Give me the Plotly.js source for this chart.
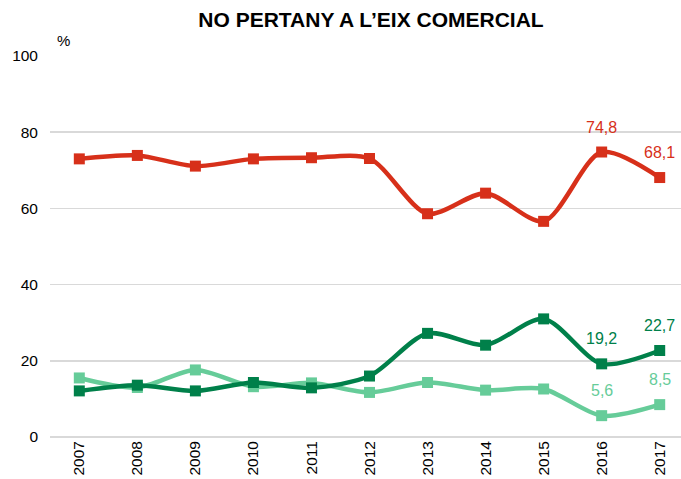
<!DOCTYPE html>
<html><head><meta charset="utf-8">
<script src="https://cdn.plot.ly/plotly-3.0.1.min.js"></script>
<style>html,body{margin:0;padding:0;background:#fff}#c{width:681px;height:479px}</style>
</head><body><div id="c"></div>
<script>
const years = ['2007','2008','2009','2010','2011','2012','2013','2014','2015','2016','2017'];
const redVals = [73.0, 73.9, 71.1, 73.0, 73.3, 73.1, 58.6, 64.0, 56.6, 74.8, 68.1];
const darkGreenVals = [12.1, 13.6, 12.1, 14.3, 12.9, 16.0, 27.2, 24.1, 31.0, 19.2, 22.7];
const lightGreenVals = [15.5, 13.0, 17.6, 13.2, 14.2, 11.7, 14.3, 12.3, 12.6, 5.6, 8.5];
const labelYears = ['2016','2017'];

const FONT = 'Liberation Sans, Arial, sans-serif';
const RED = '#D7301A', DARK = '#00804A', LIGHT = '#66CC99';
function tr(y, c){
  return {x: years, y: y, type:'scatter', mode:'lines+markers',
    line:{color:c, width:4.5, shape:'spline', smoothing:0.8},
    marker:{symbol:'square', size:11, color:c}, hoverinfo:'skip', showlegend:false, cliponaxis:false};
}
const fmt = v => v.toFixed(1).replace('.', ',');
const ann = [];
[[redVals,RED],[darkGreenVals,DARK],[lightGreenVals,LIGHT]].forEach(([vals,c])=>{
  labelYears.forEach(yr=>{
    const i = years.indexOf(yr);
    ann.push({x: i, y: vals[i], xref:'x', yref:'y', text: fmt(vals[i]), showarrow:false,
      yshift: 25, font:{family:FONT, size:16, color:c}});
  });
});
ann.push({xref:'paper', yref:'paper', x:(63.5-50)/631, y:1.0, yshift:16, xanchor:'center', yanchor:'middle',
  text:'%', showarrow:false, font:{family:FONT, size:15, color:'#000'}});

const layout = {
  width:681, height:479,
  margin:{l:50, r:0, t:56, b:42, autoexpand:false},
  paper_bgcolor:'#fff', plot_bgcolor:'#fff',
  title:{text:'<b>NO PERTANY A L’EIX COMERCIAL</b>', xref:'container', yref:'container',
    x:371/681, y:1-19.5/479, xanchor:'center', yanchor:'middle',
    font:{family:FONT, size:21, color:'#000'}},
  xaxis:{type:'category', range:[-0.505, 10.367], showgrid:false, zeroline:false, showline:false,
    ticks:'', tickangle:-90, tickfont:{family:FONT, size:15.5, color:'#000'},
    automargin:false, fixedrange:true},
  yaxis:{range:[0,100], dtick:20, showgrid:true, gridcolor:'#d9d9d9', gridwidth:1.5,
    zeroline:true, zerolinecolor:'#d9d9d9', zerolinewidth:1.5, showline:false, ticks:'',
    ticklabelstandoff:11,
    tickfont:{family:FONT, size:15.5, color:'#000'}, automargin:false},
  annotations: ann
};
Plotly.newPlot('c', [tr(redVals,RED), tr(lightGreenVals,LIGHT), tr(darkGreenVals,DARK)], layout, {staticPlot:true});
</script></body></html>
